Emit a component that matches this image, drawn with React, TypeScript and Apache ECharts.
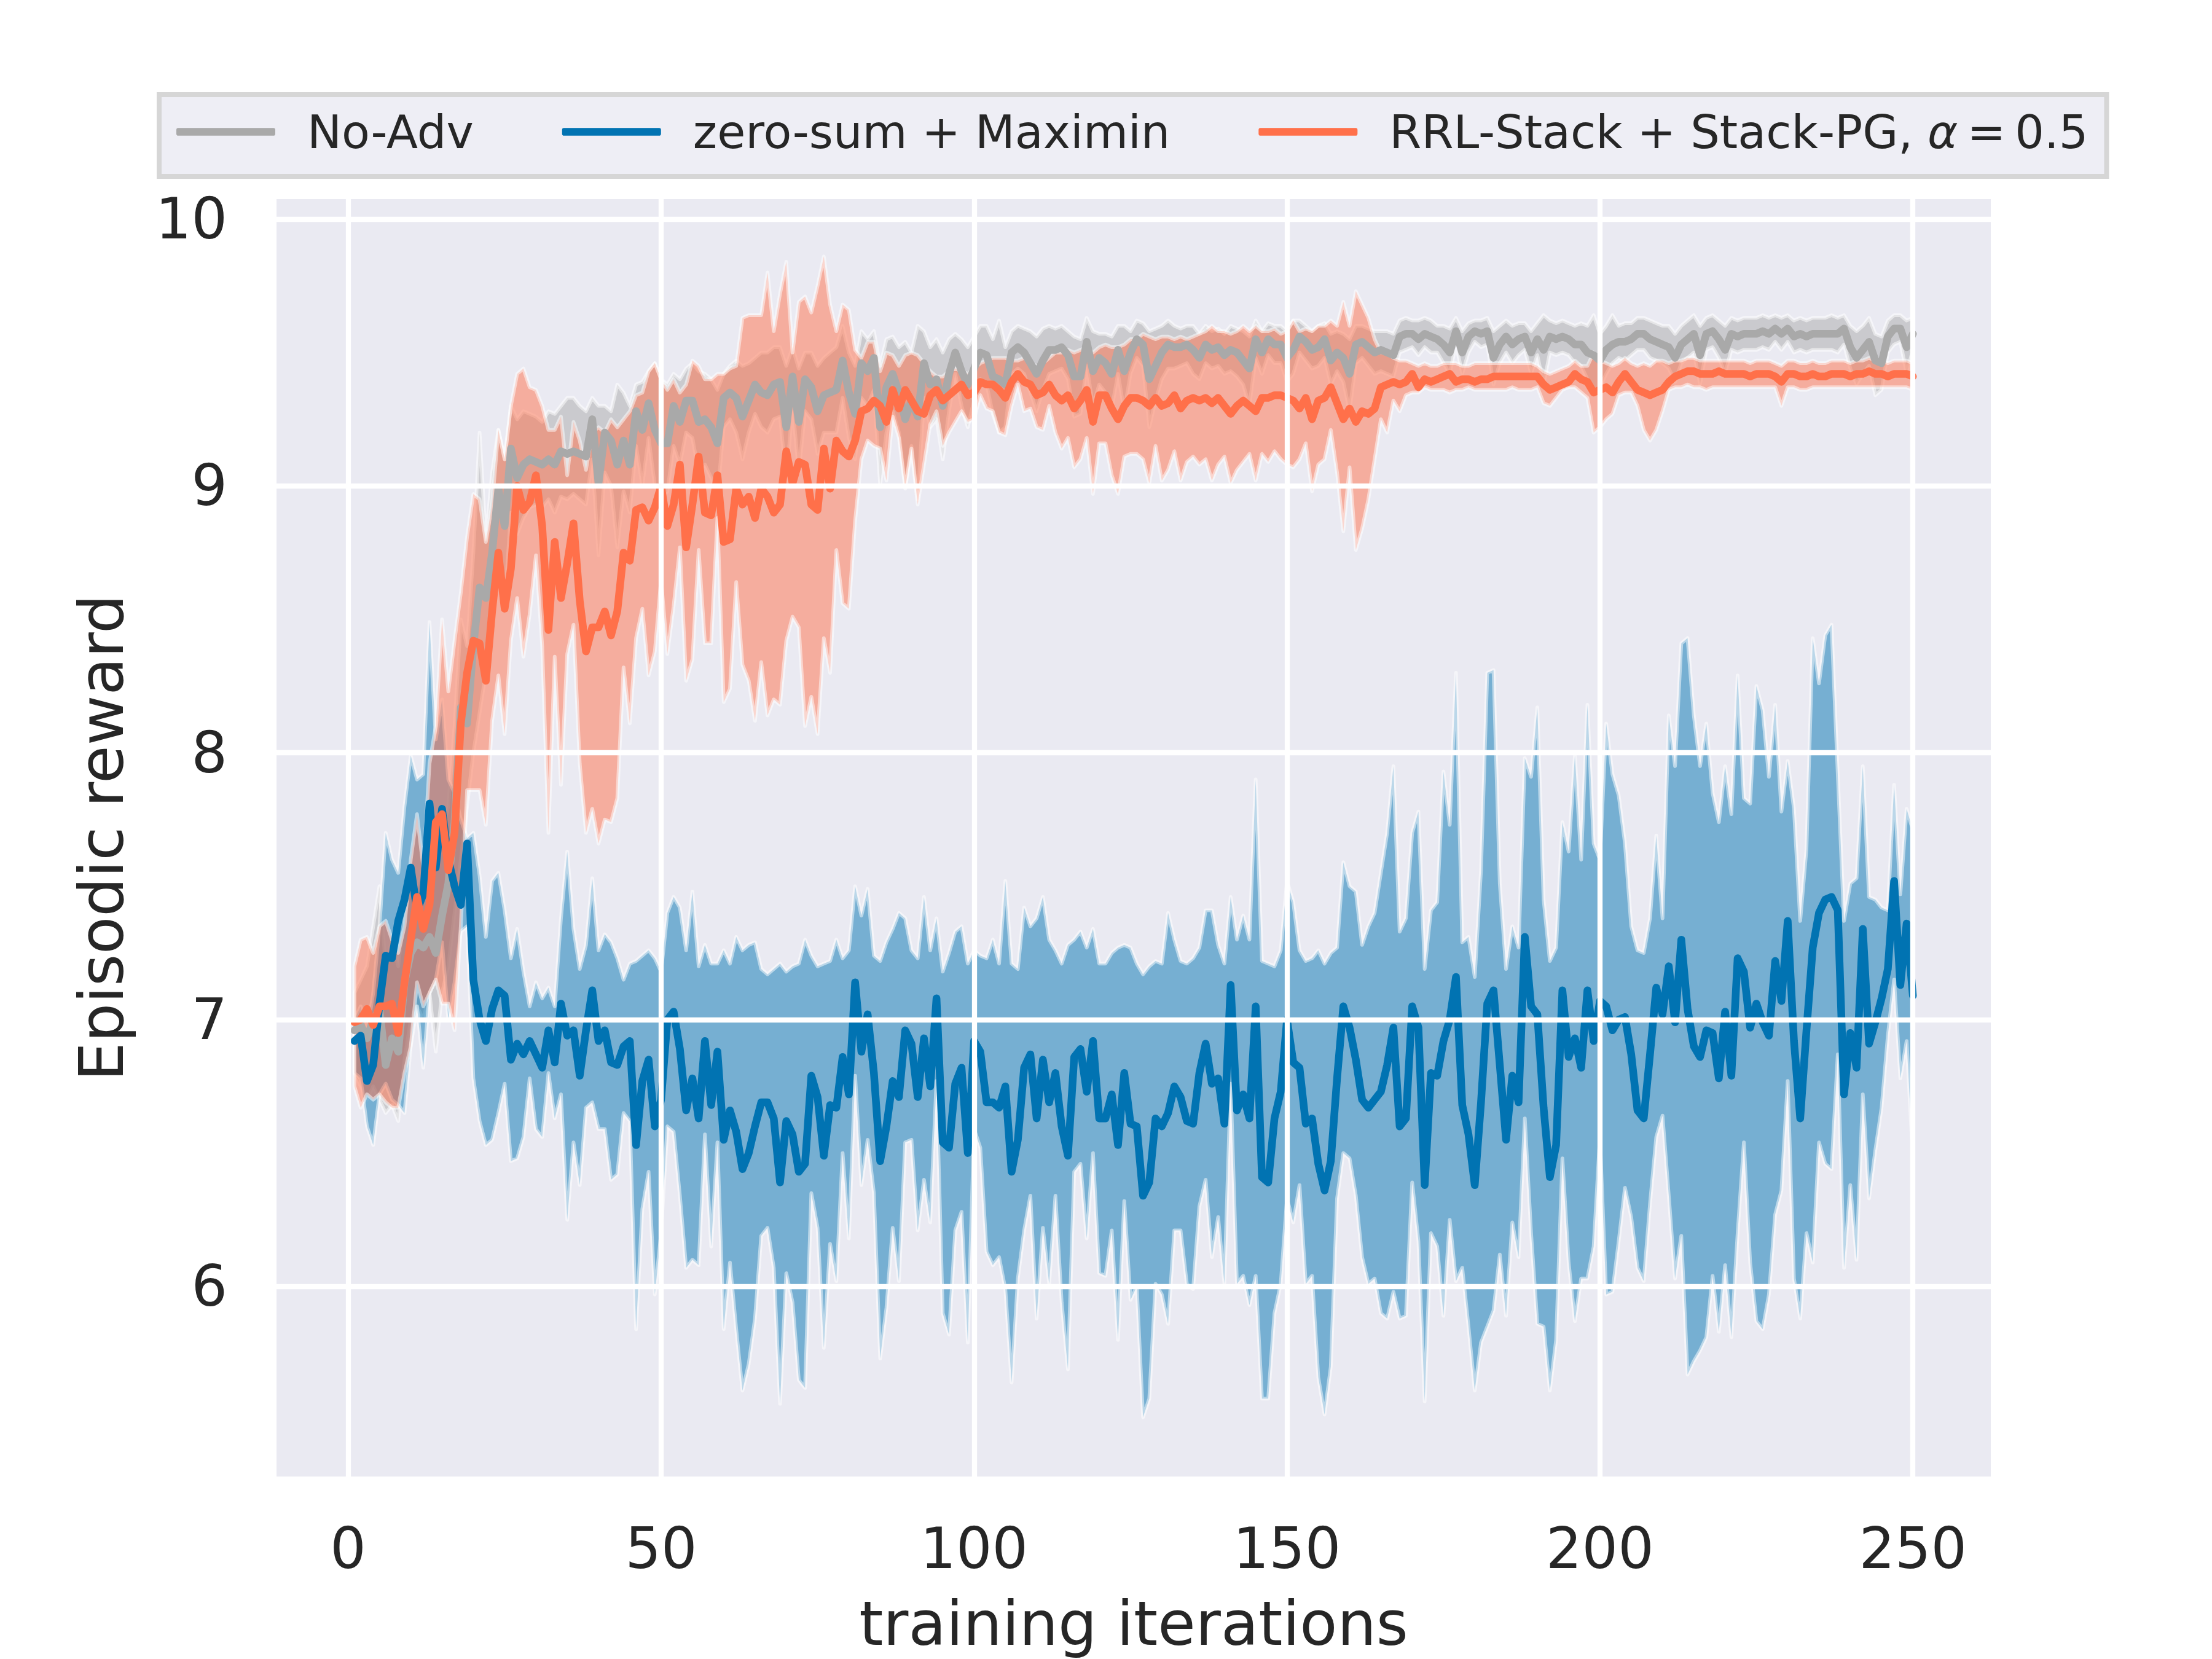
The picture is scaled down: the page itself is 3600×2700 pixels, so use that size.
import React, { useEffect, useRef } from "react";
import * as echarts from "echarts";

const xTickValues = [0, 50, 100, 150, 200, 250];
const yTickValues = [6, 7, 8, 9, 10];
const seriesNames = ["No-Adv", "zero-sum + Maximin", "RRL-Stack + Stack-PG, α = 0.5"];

// ---- No-Adv (gray) ----
const noAdv = [
  6.96, 6.98, 6.93, 7.0, 7.04, 6.83, 6.93, 6.88, 7.14, 7.25,
  7.29, 7.27, 7.31, 7.25, 7.39, 7.51, 7.74, 8.17, 8.11, 8.4,
  8.62, 8.58, 8.75, 8.99, 8.85, 9.14, 9.03, 9.08, 9.1, 9.09,
  9.08, 9.1, 9.08, 9.13, 9.12, 9.13, 9.12, 9.11, 9.25, 9.01,
  9.2, 9.17, 9.08, 9.17, 9.08, 9.28, 9.21, 9.31, 9.21, 9.16,
  9.16, 9.3, 9.24, 9.32, 9.32, 9.24, 9.25, 9.22, 9.16, 9.33,
  9.35, 9.33, 9.26, 9.32, 9.38, 9.35, 9.34, 9.38, 9.39, 9.22,
  9.41, 9.24, 9.4, 9.37, 9.28, 9.34, 9.35, 9.36, 9.47, 9.35,
  9.27, 9.46, 9.43, 9.48, 9.22, 9.37, 9.42, 9.35, 9.25, 9.32,
  9.26, 9.46, 9.38, 9.4, 9.3, 9.42, 9.5, 9.43, 9.38, 9.44,
  9.5, 9.49, 9.41, 9.4, 9.38, 9.5, 9.52, 9.5, 9.46, 9.42,
  9.47, 9.51, 9.51, 9.52, 9.49, 9.41, 9.41, 9.54, 9.43, 9.48,
  9.46, 9.42, 9.51, 9.43, 9.5, 9.55, 9.53, 9.4, 9.45, 9.5,
  9.53, 9.52, 9.52, 9.53, 9.51, 9.48, 9.53, 9.51, 9.52, 9.49,
  9.51, 9.5, 9.47, 9.44, 9.55, 9.5, 9.55, 9.53, 9.53, 9.48,
  9.51, 9.56, 9.54, 9.51, 9.52, 9.55, 9.47, 9.5, 9.48, 9.42,
  9.53, 9.54, 9.52, 9.5, 9.51, 9.5, 9.49, 9.56, 9.57, 9.57,
  9.55, 9.57, 9.56, 9.55, 9.53, 9.5, 9.58, 9.5, 9.56, 9.58,
  9.57, 9.58, 9.48, 9.53, 9.56, 9.53, 9.55, 9.56, 9.5, 9.55,
  9.51, 9.56, 9.55, 9.56, 9.55, 9.53, 9.53, 9.5, 9.49, 9.47,
  9.51, 9.53, 9.54, 9.54, 9.55, 9.57, 9.57, 9.55, 9.54, 9.53,
  9.52, 9.48, 9.53, 9.55, 9.57, 9.49, 9.57, 9.58, 9.55, 9.51,
  9.57, 9.56, 9.57, 9.57, 9.57, 9.58, 9.57, 9.59, 9.57, 9.59,
  9.56, 9.57, 9.56, 9.57, 9.57, 9.57, 9.57, 9.57, 9.59, 9.52,
  9.48, 9.51, 9.54, 9.47, 9.46, 9.56, 9.59, 9.59, 9.52, 9.57,
];
const noAdvHi = [
  7.1, 7.15, 7.2, 7.35, 7.5, 7.2, 7.3, 7.2, 7.4, 7.5,
  7.5, 7.55, 7.45, 7.6, 7.7, 7.8, 8.1, 8.5, 8.4, 8.75,
  9.2, 8.8, 9.05, 9.21, 9.1, 9.3, 9.25, 9.28, 9.27, 9.26,
  9.24, 9.28, 9.27, 9.3, 9.33, 9.33, 9.3, 9.28, 9.33, 9.3,
  9.3, 9.28, 9.38, 9.35, 9.3, 9.38, 9.39, 9.43, 9.46, 9.4,
  9.38, 9.42, 9.4, 9.44, 9.46, 9.43, 9.42, 9.4, 9.36, 9.42,
  9.45, 9.47, 9.45, 9.46, 9.48, 9.5, 9.5, 9.52, 9.52, 9.45,
  9.52, 9.44, 9.5, 9.5, 9.45, 9.48, 9.5, 9.52, 9.6, 9.5,
  9.45, 9.58, 9.55, 9.58, 9.45, 9.55, 9.56, 9.52, 9.54, 9.5,
  9.6, 9.58, 9.52, 9.55, 9.5, 9.55, 9.57, 9.55, 9.52, 9.56,
  9.6, 9.6, 9.55, 9.62, 9.52, 9.58, 9.6, 9.59, 9.58, 9.56,
  9.59, 9.6, 9.59, 9.6, 9.58, 9.56, 9.55, 9.63, 9.58, 9.57,
  9.57, 9.56, 9.6, 9.6, 9.58, 9.62, 9.61, 9.58, 9.59, 9.6,
  9.62, 9.6, 9.59, 9.6, 9.6, 9.57, 9.6, 9.58, 9.59, 9.57,
  9.6, 9.59, 9.58, 9.56, 9.62, 9.58, 9.61, 9.6, 9.6, 9.58,
  9.62, 9.62, 9.6, 9.58, 9.6, 9.61, 9.57, 9.58, 9.57, 9.55,
  9.6, 9.6, 9.59, 9.58, 9.58, 9.58, 9.57, 9.62, 9.63, 9.62,
  9.62, 9.63, 9.62, 9.6, 9.6, 9.59, 9.63, 9.58, 9.61, 9.62,
  9.62, 9.63, 9.58, 9.6, 9.62, 9.6, 9.61, 9.61, 9.58, 9.61,
  9.64, 9.62, 9.61, 9.62, 9.61, 9.6, 9.61, 9.6, 9.64, 9.57,
  9.6, 9.64, 9.6, 9.61, 9.61, 9.63, 9.63, 9.62, 9.61, 9.6,
  9.6, 9.57, 9.6, 9.62, 9.64, 9.6, 9.63, 9.64, 9.62, 9.6,
  9.63, 9.62, 9.63, 9.63, 9.63, 9.64, 9.63, 9.64, 9.63, 9.64,
  9.62, 9.63, 9.62, 9.63, 9.63, 9.63, 9.64, 9.63, 9.64, 9.6,
  9.58, 9.6, 9.63, 9.57, 9.56, 9.62, 9.64, 9.64, 9.62, 9.63,
];
const noAdvLo = [
  6.8, 6.75, 6.7, 6.75, 6.7, 6.65, 6.68, 6.62, 6.85, 7.0,
  7.05, 7.0, 7.1, 6.88, 7.1, 7.2, 7.4, 7.6, 7.8, 8.0,
  8.15, 8.3, 8.45, 8.7, 8.55, 8.9, 8.82, 8.88, 8.92, 8.93,
  8.92, 8.95, 8.9, 8.96, 8.95, 8.97, 8.95, 8.93, 9.1, 8.74,
  9.05, 9.0, 8.77, 8.98, 8.9, 9.15, 9.0, 9.18, 9.0, 8.95,
  8.98, 9.15, 9.08, 9.2, 9.18, 9.05, 9.08, 9.03, 8.96, 9.22,
  9.25, 9.2, 9.1, 9.2, 9.27, 9.22, 9.2, 9.25, 9.26, 9.02,
  9.3, 9.05, 9.28, 9.25, 9.12, 9.2, 9.2, 9.2, 9.33, 9.18,
  9.1, 9.33, 9.3, 9.36, 9.0, 9.2, 9.28, 9.2, 9.0, 9.15,
  8.95, 9.33, 9.22, 9.25, 9.1, 9.28, 9.42, 9.3, 9.22, 9.32,
  9.4, 9.38, 9.27, 9.2, 9.22, 9.42, 9.44, 9.42, 9.35, 9.28,
  9.36, 9.42, 9.43, 9.44, 9.4, 9.26, 9.27, 9.45, 9.3, 9.38,
  9.35, 9.29, 9.42, 9.28, 9.42, 9.48, 9.45, 9.22, 9.32, 9.4,
  9.44, 9.44, 9.45, 9.46, 9.42, 9.4, 9.46, 9.44, 9.45, 9.42,
  9.43, 9.41, 9.38, 9.3, 9.48, 9.42, 9.49, 9.46, 9.46, 9.39,
  9.42, 9.5, 9.47, 9.44, 9.45, 9.48, 9.38, 9.43, 9.39, 9.28,
  9.46, 9.48, 9.45, 9.42, 9.43, 9.42, 9.41, 9.5, 9.51, 9.52,
  9.49, 9.52, 9.5, 9.5, 9.46, 9.42, 9.53, 9.42, 9.5, 9.54,
  9.52, 9.53, 9.38, 9.46, 9.5, 9.46, 9.49, 9.51, 9.42, 9.49,
  9.38, 9.5, 9.49, 9.5, 9.49, 9.46, 9.45, 9.4, 9.35, 9.37,
  9.42, 9.46, 9.48, 9.47, 9.49, 9.51, 9.51, 9.48, 9.47, 9.46,
  9.44, 9.39, 9.46, 9.48, 9.5, 9.38, 9.51, 9.52, 9.48, 9.42,
  9.51, 9.5, 9.51, 9.51, 9.51, 9.52, 9.51, 9.54, 9.51, 9.54,
  9.5, 9.51, 9.5, 9.51, 9.51, 9.51, 9.51, 9.5, 9.53, 9.44,
  9.38, 9.42, 9.45, 9.34, 9.36, 9.5, 9.53, 9.54, 9.42, 9.51,
];

// ---- zero-sum + Maximin (blue) ----
const zeroSum = [
  6.92, 6.94, 6.77, 6.83, 7.06, 7.24, 7.23, 7.37, 7.45, 7.57,
  7.41, 7.47, 7.81, 7.57, 7.79, 7.6, 7.5, 7.43, 7.66, 7.15,
  7.0, 6.92, 7.04, 7.11, 7.09, 6.85, 6.91, 6.87, 6.92, 6.87,
  6.82, 6.96, 6.84, 7.06, 6.94, 6.96, 6.79, 6.96, 7.11, 6.92,
  6.96, 6.84, 6.83, 6.9, 6.92, 6.53, 6.77, 6.85, 6.6, 6.7,
  7.0, 7.03, 6.89, 6.66, 6.78, 6.63, 6.92, 6.68, 6.88, 6.55,
  6.66, 6.58, 6.44, 6.5, 6.6, 6.69, 6.69, 6.63, 6.39, 6.62,
  6.57, 6.43, 6.46, 6.79, 6.71, 6.49, 6.68, 6.67, 6.86, 6.72,
  7.14, 6.88, 7.02, 6.8, 6.47, 6.6, 6.77, 6.71, 6.96, 6.91,
  6.71, 6.93, 6.75, 7.08, 6.54, 6.52, 6.76, 6.82, 6.5, 6.92,
  6.88, 6.69, 6.69, 6.67, 6.75, 6.43, 6.55, 6.82, 6.87, 6.63,
  6.85, 6.69, 6.8, 6.6, 6.49, 6.86, 6.89, 6.73, 6.92, 6.63,
  6.63, 6.72, 6.53, 6.8, 6.61, 6.6, 6.34, 6.39, 6.63, 6.6,
  6.65, 6.75, 6.71, 6.62, 6.61, 6.8, 6.91, 6.76, 6.78, 6.61,
  7.13, 6.66, 6.72, 6.63, 7.05, 6.41, 6.39, 6.63, 6.73, 7.0,
  6.84, 6.82, 6.61, 6.63, 6.46, 6.36, 6.47, 6.78, 7.05, 6.97,
  6.85, 6.7, 6.67, 6.7, 6.73, 6.83, 6.97, 6.6, 6.63, 7.05,
  6.97, 6.38, 6.8, 6.79, 6.92, 7.0, 7.16, 6.68, 6.57, 6.38,
  6.69, 7.06, 7.11, 6.83, 6.55, 6.79, 6.69, 7.31, 7.05, 7.02,
  6.67, 6.41, 6.53, 7.11, 6.86, 6.93, 6.82, 7.11, 6.92, 7.07,
  7.05, 6.96, 7.0, 7.01, 6.87, 6.66, 6.63, 6.87, 7.12, 7.02,
  7.2, 6.99, 7.3, 7.04, 6.9, 6.86, 6.96, 6.95, 6.78, 7.03,
  6.79, 7.23, 7.18, 6.97, 7.06, 6.99, 6.94, 7.22, 7.07, 7.37,
  6.92, 6.63, 6.96, 7.27, 7.4, 7.45, 7.46, 7.41, 6.72, 6.95,
  6.82, 7.34, 6.91, 6.99, 7.08, 7.19, 7.52, 7.13, 7.36, 7.09,
];
const zeroSumHi = [
  7.0, 7.05, 6.95, 7.1, 7.35, 7.7, 7.6, 7.55, 7.8, 7.99,
  7.9, 7.92, 8.49, 8.05, 8.2, 7.9, 7.85, 7.75, 7.68, 7.7,
  7.54, 7.31, 7.52, 7.55, 7.41, 7.23, 7.34, 7.18, 7.05, 7.14,
  7.08, 7.12, 7.05, 7.38, 7.63, 7.34, 7.19, 7.28, 7.53, 7.26,
  7.32, 7.29, 7.23, 7.15, 7.21, 7.22, 7.24, 7.26, 7.23, 7.18,
  7.4, 7.46, 7.42, 7.26, 7.48, 7.2, 7.28, 7.21, 7.21, 7.26,
  7.21, 7.31, 7.26, 7.28, 7.29, 7.19, 7.17, 7.19, 7.21, 7.18,
  7.2, 7.21, 7.3, 7.24, 7.2, 7.21, 7.22, 7.3, 7.23, 7.26,
  7.5, 7.39, 7.49, 7.24, 7.22, 7.29, 7.34, 7.4, 7.38, 7.26,
  7.23, 7.46, 7.26, 7.38, 7.18, 7.25, 7.33, 7.35, 7.21, 7.26,
  7.24, 7.23, 7.3, 7.21, 7.52, 7.21, 7.19, 7.42, 7.35, 7.38,
  7.46, 7.3, 7.26, 7.21, 7.28, 7.3, 7.33, 7.27, 7.34, 7.21,
  7.21, 7.25, 7.27, 7.28, 7.27, 7.21, 7.17, 7.2, 7.22, 7.21,
  7.4, 7.3, 7.22, 7.21, 7.23, 7.27, 7.41, 7.41, 7.28, 7.21,
  7.46, 7.3, 7.39, 7.3, 7.9, 7.22, 7.21, 7.2, 7.26, 7.52,
  7.44, 7.26, 7.22, 7.23, 7.26, 7.21, 7.25, 7.27, 7.59, 7.5,
  7.48, 7.28, 7.35, 7.4, 7.55, 7.7, 7.95, 7.33, 7.38, 7.7,
  7.78, 7.19, 7.41, 7.44, 7.93, 7.73, 8.3, 7.29, 7.31, 7.16,
  7.56, 8.3, 8.31, 7.51, 7.19, 7.35, 7.27, 7.98, 7.91, 8.17,
  7.45, 7.22, 7.27, 7.74, 7.63, 7.99, 7.6, 8.18, 7.66, 7.6,
  8.11, 7.92, 7.84, 7.66, 7.35, 7.26, 7.25, 7.38, 7.69, 7.38,
  8.14, 7.95, 8.41, 8.43, 8.14, 7.95, 8.11, 7.85, 7.74, 7.95,
  7.77, 8.29, 7.83, 7.81, 8.25, 8.16, 7.91, 8.18, 7.78, 7.97,
  7.79, 7.37, 7.64, 8.43, 8.26, 8.44, 8.48, 7.92, 7.37, 7.51,
  7.53, 7.95, 7.46, 7.45, 7.42, 7.41, 7.88, 7.47, 7.79, 7.71,
];
const zeroSumLo = [
  6.8, 6.78, 6.6, 6.53, 6.72, 6.76, 6.7, 6.68, 6.65, 6.9,
  7.05, 6.82, 7.1, 7.15, 7.29, 7.0, 7.14, 7.33, 7.35, 6.78,
  6.62, 6.53, 6.55, 6.65, 6.76, 6.47, 6.48, 6.56, 6.78, 6.59,
  6.56, 6.8, 6.63, 6.72, 6.25, 6.54, 6.38, 6.67, 6.69, 6.59,
  6.59, 6.4, 6.42, 6.65, 6.62, 5.84, 6.29, 6.43, 5.97, 6.2,
  6.6, 6.58, 6.34, 6.07, 6.1, 6.08, 6.57, 6.15, 6.54, 5.84,
  6.09, 5.84, 5.61, 5.71, 5.88, 6.19, 6.22, 6.07, 5.56, 6.05,
  5.94, 5.65, 5.62, 6.35, 6.22, 5.77, 6.16, 6.02, 6.5, 6.18,
  6.79, 6.38, 6.55, 6.35, 5.73, 5.92, 6.22, 6.02, 6.54, 6.55,
  6.21, 6.4, 6.24, 6.77, 5.9, 5.82, 6.21, 6.28, 5.79, 6.59,
  6.52, 6.13, 6.08, 6.11, 5.99, 5.64, 6.03, 6.21, 6.34, 5.88,
  6.22, 6.01, 6.34, 5.94, 5.69, 6.43, 6.46, 6.18, 6.5, 6.05,
  6.04, 6.21, 5.8, 6.32, 5.95, 6.0, 5.51, 5.58, 6.01, 5.97,
  5.86, 6.21, 6.21, 6.01, 5.99, 6.3, 6.4, 6.11, 6.26, 6.01,
  6.76, 6.01, 6.04, 5.93, 6.04, 5.58, 5.58, 5.9, 6.01, 6.33,
  6.24, 6.38, 6.01, 6.04, 5.66, 5.52, 5.7, 6.33, 6.5, 6.48,
  6.34, 6.11, 6.01, 6.03, 5.9, 5.88, 5.98, 5.88, 5.89, 6.39,
  6.17, 5.57, 6.2, 6.15, 5.89, 6.25, 6.02, 6.07, 5.85, 5.61,
  5.79, 5.85, 5.91, 6.12, 5.89, 6.24, 6.11, 6.63, 6.2, 5.86,
  5.85, 5.61, 5.8, 6.48, 6.09, 5.87, 6.03, 6.03, 6.15, 6.56,
  5.97, 5.98, 6.17, 6.37, 6.26, 6.07, 6.02, 6.31, 6.56, 6.64,
  6.34, 6.03, 6.19, 5.67, 5.72, 5.76, 5.81, 6.04, 5.83, 6.08,
  5.81, 6.2, 6.54, 6.09, 5.87, 5.84, 5.97, 6.27, 6.36, 6.77,
  6.03, 5.88, 6.2, 6.09, 6.54, 6.46, 6.44, 6.87, 6.07, 6.38,
  6.1, 6.72, 6.33, 6.51, 6.67, 6.94, 7.15, 6.78, 6.92, 6.48,
];

// ---- RRL-Stack + Stack-PG (orange) ----
const rrl = [
  6.99, 7.0, 7.04, 6.98, 7.05, 7.05, 7.06, 6.95, 7.14, 7.3,
  7.46, 7.34, 7.43, 7.74, 7.77, 7.56, 7.7, 8.11, 8.3, 8.42,
  8.41, 8.27, 8.53, 8.75, 8.54, 8.69, 9.0, 8.91, 8.94, 9.04,
  8.85, 8.46, 8.79, 8.58, 8.71, 8.86, 8.57, 8.38, 8.47, 8.47,
  8.53, 8.44, 8.53, 8.75, 8.72, 8.91, 8.92, 8.87, 8.92, 9.0,
  8.85, 8.93, 9.08, 8.77, 8.93, 9.11, 8.9, 8.89, 9.04, 8.79,
  8.8, 8.99, 8.93, 8.96, 8.88, 8.99, 8.96, 8.9, 8.93, 9.13,
  9.01, 9.09, 9.08, 8.93, 8.91, 9.14, 8.99, 9.17, 9.13, 9.11,
  9.17, 9.28, 9.29, 9.32, 9.3, 9.24, 9.36, 9.29, 9.36, 9.32,
  9.28, 9.27, 9.34, 9.36, 9.32, 9.34, 9.36, 9.38, 9.34, 9.35,
  9.39, 9.38, 9.38, 9.36, 9.33, 9.39, 9.42, 9.39, 9.38, 9.34,
  9.35, 9.38, 9.34, 9.32, 9.34, 9.29, 9.32, 9.36, 9.24, 9.34,
  9.34, 9.29, 9.25, 9.3, 9.33, 9.33, 9.32, 9.3, 9.33, 9.3,
  9.31, 9.34, 9.29, 9.32, 9.33, 9.32, 9.33, 9.31, 9.33, 9.3,
  9.27, 9.3, 9.32, 9.3, 9.28, 9.33, 9.33, 9.34, 9.34, 9.33,
  9.32, 9.29, 9.33, 9.25, 9.32, 9.33, 9.37, 9.31, 9.25, 9.29,
  9.24, 9.28, 9.27, 9.29, 9.37, 9.38, 9.39, 9.38, 9.39, 9.42,
  9.37, 9.4, 9.39, 9.4, 9.41, 9.42, 9.39, 9.4, 9.4, 9.39,
  9.4, 9.4, 9.41, 9.41, 9.41, 9.41, 9.41, 9.41, 9.41, 9.41,
  9.38, 9.36, 9.37, 9.38, 9.39, 9.42, 9.4, 9.39, 9.35, 9.36,
  9.37, 9.35, 9.39, 9.42, 9.39, 9.36, 9.35, 9.34, 9.35, 9.36,
  9.39, 9.41, 9.42, 9.43, 9.43, 9.42, 9.42, 9.42, 9.43, 9.42,
  9.42, 9.42, 9.42, 9.41, 9.42, 9.42, 9.42, 9.41, 9.39, 9.42,
  9.42, 9.41, 9.41, 9.42, 9.41, 9.41, 9.42, 9.42, 9.42, 9.41,
  9.42, 9.42, 9.43, 9.42, 9.42, 9.41, 9.42, 9.42, 9.42, 9.41,
];
const rrlHi = [
  7.2, 7.3, 7.31, 7.25, 7.35, 7.37, 7.3, 7.25, 7.35, 7.6,
  7.77, 7.57, 7.96, 8.1, 8.5, 8.23, 8.42, 8.6, 8.81, 8.97,
  8.95, 8.79, 8.93, 9.21, 9.1, 9.3, 9.42, 9.44, 9.37, 9.36,
  9.3, 9.21, 9.21, 9.26, 9.04, 9.24, 9.17, 9.06, 9.2, 9.22,
  9.2, 9.25, 9.22, 9.25, 9.28, 9.34, 9.35, 9.43, 9.46, 9.4,
  9.36, 9.4, 9.35, 9.38, 9.47, 9.45, 9.4, 9.4, 9.42, 9.42,
  9.44, 9.45, 9.63, 9.64, 9.64, 9.64, 9.8, 9.58, 9.72, 9.84,
  9.5, 9.69, 9.71, 9.65, 9.75, 9.86, 9.68, 9.58, 9.68, 9.66,
  9.51, 9.48, 9.54, 9.54, 9.43, 9.5, 9.49, 9.45, 9.49, 9.5,
  9.49, 9.46, 9.43, 9.41, 9.41, 9.43, 9.44, 9.43, 9.42, 9.44,
  9.46, 9.47, 9.48, 9.48, 9.48, 9.47, 9.47, 9.48, 9.46, 9.45,
  9.46, 9.48, 9.5, 9.5, 9.51, 9.5, 9.51, 9.52, 9.5, 9.52,
  9.53, 9.52, 9.52, 9.53, 9.55, 9.55, 9.57, 9.56, 9.55, 9.56,
  9.56, 9.55, 9.56, 9.55, 9.56, 9.57, 9.58, 9.6, 9.58, 9.58,
  9.57, 9.58, 9.6, 9.58, 9.6, 9.58, 9.58, 9.59, 9.57, 9.58,
  9.62, 9.58, 9.59, 9.58, 9.6, 9.6, 9.62, 9.6, 9.69, 9.6,
  9.73, 9.68, 9.63, 9.55, 9.5, 9.5, 9.48, 9.47, 9.47, 9.46,
  9.45, 9.46, 9.45, 9.45, 9.46, 9.46, 9.46, 9.45, 9.45, 9.46,
  9.46, 9.46, 9.46, 9.46, 9.46, 9.46, 9.46, 9.46, 9.46, 9.45,
  9.43, 9.42, 9.43, 9.44, 9.45, 9.47, 9.45, 9.45, 9.5, 9.47,
  9.46, 9.45, 9.46, 9.48, 9.46, 9.45, 9.46, 9.45, 9.47, 9.47,
  9.46, 9.47, 9.47, 9.48, 9.48, 9.47, 9.47, 9.47, 9.47, 9.47,
  9.47, 9.47, 9.47, 9.46, 9.47, 9.47, 9.47, 9.46, 9.45, 9.47,
  9.47, 9.46, 9.46, 9.47, 9.46, 9.46, 9.47, 9.47, 9.47, 9.46,
  9.47, 9.47, 9.48, 9.47, 9.47, 9.46, 9.47, 9.47, 9.47, 9.46,
];
const rrlLo = [
  6.75, 6.67, 6.72, 6.7, 6.72, 6.69, 6.67, 6.67, 6.8, 6.9,
  7.14, 7.05, 7.1, 7.15, 7.06, 7.06, 6.96, 7.35, 7.86, 7.86,
  7.86, 7.73, 8.12, 8.29, 8.07, 8.42, 8.58, 8.36, 8.52, 8.74,
  8.4, 7.7, 8.36, 7.88, 8.37, 8.48, 7.96, 7.7, 7.79, 7.66,
  7.75, 7.74, 7.83, 8.32, 8.11, 8.43, 8.54, 8.29, 8.38, 8.65,
  8.37, 8.55, 8.77, 8.27, 8.35, 8.76, 8.41, 8.41, 8.88, 8.19,
  8.24, 8.64, 8.33, 8.27, 8.12, 8.34, 8.14, 8.2, 8.18, 8.42,
  8.51, 8.47, 8.1, 8.21, 8.07, 8.43, 8.3, 8.76, 8.56, 8.54,
  8.87, 9.1, 9.17, 9.15, 9.14, 9.02, 9.26, 9.18, 8.99, 9.14,
  8.93, 9.08, 9.23, 9.28, 9.15, 9.2, 9.24, 9.28, 9.24, 9.25,
  9.34, 9.29, 9.28, 9.2, 9.19, 9.3, 9.38, 9.28, 9.29, 9.22,
  9.21, 9.3, 9.2, 9.14, 9.18, 9.07, 9.1, 9.18, 8.97, 9.16,
  9.16, 9.04, 8.97, 9.11, 9.12, 9.12, 9.1, 9.01, 9.15, 9.02,
  9.06, 9.13, 9.02, 9.09, 9.11, 9.08, 9.1, 9.02, 9.08, 9.11,
  9.01, 9.06, 9.09, 9.12, 9.02, 9.12, 9.09, 9.13, 9.1, 9.08,
  9.07, 9.1, 9.16, 8.98, 9.08, 9.1, 9.21, 9.05, 8.83, 9.07,
  8.76, 8.84, 8.95, 9.1, 9.25, 9.2, 9.32, 9.28, 9.34, 9.35,
  9.35, 9.37, 9.36, 9.36, 9.36, 9.35, 9.36, 9.36, 9.37, 9.36,
  9.36, 9.36, 9.36, 9.36, 9.36, 9.37, 9.36, 9.36, 9.36, 9.37,
  9.31, 9.3, 9.33, 9.36, 9.37, 9.37, 9.35, 9.33, 9.2, 9.22,
  9.25, 9.27, 9.34, 9.35, 9.35, 9.3, 9.21, 9.17, 9.21, 9.28,
  9.36, 9.37, 9.37, 9.38, 9.37, 9.37, 9.36, 9.37, 9.37, 9.37,
  9.37, 9.37, 9.37, 9.37, 9.37, 9.37, 9.37, 9.37, 9.3, 9.37,
  9.37, 9.36, 9.36, 9.37, 9.37, 9.37, 9.37, 9.37, 9.37, 9.37,
  9.37, 9.37, 9.37, 9.37, 9.37, 9.37, 9.37, 9.37, 9.37, 9.36,
];

const GRAY = "#A9A9A9";
const BLUE = "#0173B2";
const ORANGE = "#FF704A";
const TEXT = "#262626";
const FONT = "DejaVu Sans";
const RRL_LABEL = "{t|RRL-Stack + Stack-PG, }{a|α}{t|\u2009=\u20090.5}";

const toPts = (arr: number[]) => arr.map((v, i) => [i + 1, v]);

function hexToRgba(hex: string, a: number) {
  const n = parseInt(hex.slice(1), 16);
  return `rgba(${(n >> 16) & 255},${(n >> 8) & 255},${n & 255},${a})`;
}

function buildOption() {
  const groups = [
    { key: "g", name: seriesNames[0], color: GRAY, mean: noAdv, lo: noAdvLo, hi: noAdvHi },
    { key: "b", name: seriesNames[1], color: BLUE, mean: zeroSum, lo: zeroSumLo, hi: zeroSumHi },
    { key: "o", name: seriesNames[2], color: ORANGE, mean: rrl, lo: rrlLo, hi: rrlHi },
  ];

  // Confidence bands: one polygon per band, drawn through the axes' scales (api.coord)
  const bandSeries = groups.map((g) => ({
    type: "custom",
    name: g.key + "-band",
    silent: true,
    z: 2,
    clip: true,
    data: g.hi.map((v, i) => [i + 1, g.lo[i], v]),
    encode: { x: 0, y: [1, 2] },
    renderItem: (params: any, api: any) => {
      if (params.dataIndex !== 0) return null;
      const pts: number[][] = [];
      for (let i = 0; i < g.hi.length; i++) pts.push(api.coord([i + 1, g.hi[i]]));
      for (let i = g.lo.length - 1; i >= 0; i--) pts.push(api.coord([i + 1, g.lo[i]]));
      return {
        type: "polygon",
        shape: { points: pts },
        style: {
          fill: hexToRgba(g.color, 0.5),
          stroke: "rgba(255,255,255,0.5)",
          lineWidth: 6,
          lineJoin: "round",
        },
      };
    },
  }));

  const lineSeries = groups.map((g) => ({
    type: "line",
    name: g.name,
    data: toPts(g.mean),
    symbol: "none",
    showSymbol: false,
    z: 3,
    color: g.color,
    itemStyle: { color: g.color },
    lineStyle: { color: g.color, width: 12.5, cap: "round", join: "round" },
    emphasis: { disabled: true },
  }));

  const gridSeries = {
    type: "line",
    name: "grid-lines",
    data: [] as any[],
    silent: true,
    z: 1,
    markLine: {
      silent: true,
      symbol: ["none", "none"],
      label: { show: false },
      emphasis: { disabled: true },
      lineStyle: { color: "#FFFFFF", width: 8.3, type: "solid" },
      data: [
        ...xTickValues.map((v) => ({ xAxis: v })),
        ...yTickValues.map((v) => ({ yAxis: v })),
      ],
    },
  };

  return {
    animation: false,
    backgroundColor: "#FFFFFF",
    textStyle: { fontFamily: FONT },
    grid: {
      left: 450,
      top: 324,
      width: 2790,
      height: 2079,
      show: true,
      backgroundColor: "#EAEAF2",
      borderWidth: 0,
      containLabel: false,
    },
    legend: {
      data: seriesNames,
      left: 259,
      top: 154,
      orient: "horizontal",
      icon: "roundRect",
      itemWidth: 161,
      itemHeight: 12.5,
      itemGap: 144,
      padding: [20, 30, 32, 28],
      backgroundColor: "#EEEEF5",
      borderColor: "#D6D6D6",
      borderWidth: 8,
      borderRadius: 0,
      selectedMode: false,
      formatter: (name: string) => (name === seriesNames[2] ? RRL_LABEL : "{t|" + name + "}"),
      textStyle: {
        color: TEXT,
        fontSize: 75,
        fontFamily: FONT,
        lineHeight: 81,
        padding: [0, 0, 0, 47],
        rich: {
          t: { fontSize: 75, fontFamily: FONT, color: TEXT, lineHeight: 81 },
          a: { fontSize: 75, fontFamily: FONT, color: TEXT, fontStyle: "italic", lineHeight: 81 },
        },
      },
    },
    xAxis: {
      type: "value",
      min: -11.45,
      max: 262.45,
      name: "training iterations",
      nameLocation: "middle",
      nameGap: 189,
      nameMoveOverlap: false,
      nameTextStyle: { fontSize: 100, color: TEXT, fontFamily: FONT, lineHeight: 100 },
      axisLine: { show: false },
      axisTick: { show: false },
      splitLine: { show: false },
      axisLabel: {
        customValues: xTickValues,
        fontSize: 92,
        lineHeight: 92,
        color: TEXT,
        fontFamily: FONT,
        margin: 71,
        hideOverlap: false,
      },
    },
    yAxis: {
      type: "value",
      min: 5.288,
      max: 10.075,
      name: "Episodic reward",
      nameLocation: "middle",
      nameRotate: 90,
      nameGap: 235,
      nameMoveOverlap: false,
      nameTextStyle: { fontSize: 100, color: TEXT, fontFamily: FONT, lineHeight: 100 },
      axisLine: { show: false },
      axisTick: { show: false },
      splitLine: { show: false },
      axisLabel: {
        customValues: yTickValues,
        fontSize: 92,
        lineHeight: 92,
        color: TEXT,
        fontFamily: FONT,
        margin: 80,
        hideOverlap: false,
      },
    },
    series: [gridSeries, ...bandSeries, ...lineSeries],
  };
}

export default function App() {
  const ref = useRef<HTMLDivElement>(null);
  useEffect(() => {
    if (!ref.current) return;
    const chart = echarts.init(ref.current, null, { renderer: "svg", width: 3600, height: 2700 });
    chart.setOption(buildOption() as any);
    return () => {
      chart.dispose();
    };
  }, []);
  return (
    <div
      ref={ref}
      style={{ position: "absolute", left: 0, top: 0, width: 3600, height: 2700, background: "#FFFFFF" }}
    />
  );
}
